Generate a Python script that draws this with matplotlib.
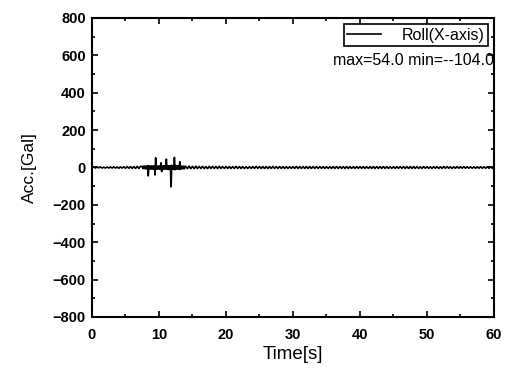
import numpy as np
import matplotlib.pyplot as plt

# acceleration record [Gal]
t_a = np.arange(0.0, 7.5, 0.25)
acc_a = [0, 3, -3, 3, -2, 3, -3, 2, -3, 3,
         -3, 3, -3, 4, -3, 3, -4, 3, -3, 4,
         -4, 5, -4, 5, -5, 5, -5, 6, -5, 6]

t_b = np.arange(7.5, 14.0, 0.1)
acc_b = [6, -6, 7, -6, 8, -7, 7, -8, 9, -45,
         10, -8, 7, -8, 9, -9, 8, -7, 9, -40,
         52, -10, 9, -8, 7, -8, 9, -10, 25, -22,
         8, -9, 10, -9, 8, -8, 45, -10, 9, -11,
         10, -9, 10, -104, 12, -10, 9, -10, 54, -12,
         10, -9, 10, -8, 8, -10, 31, -9, 8, -7,
         7, -7, 7, -7, 6]

t_c = np.arange(14.0, 60.25, 0.25)
acc_c = [6, -6, 7, -6, 6, -6, 7, -6, 6, -5, 6, -6, 5, -6, 6, -5, 6, -5, 5, -6,
         6, -5, 5, -5, 6, -5, 5, -5, 5, -5, 6, -5, 5, -5, 5, -6, 5, -5, 5, -5,
         5, -5, 6, -5, 5, -5, 5, -5, 5, -5, 5, -5, 6, -5, 5, -5, 5, -5, 5, -5,
         5, -5, 5, -5, 5, -5, 6, -5, 5, -5, 5, -5, 5, -5, 5, -5, 5, -5, 5, -5,
         5, -5, 5, -5, 5, -5, 5, -5, 5, -5, 5, -5, 5, -5, 5, -5, 5, -5, 5, -5,
         5, -5, 5, -5, 5, -5, 5, -5, 5, -5, 5, -5, 5, -5, 5, -5, 5, -5, 5, -5,
         5, -5, 5, -5, 5, -5, 5, -5, 5, -5, 5, -5, 5, -5, 5, -5, 5, -5, 5, -5,
         4, -5, 5, -4, 5, -5, 4, -5, 5, -4, 5, -5, 4, -5, 5, -4, 5, -4, 4, -5,
         4, -4, 5, -4, 4, -4, 5, -4, 4, -4, 4, -4, 4, -4, 4, -4, 4, -4, 4, -4,
         4, -4, 4, -4, 4]

time_s = np.concatenate([t_a, t_b, t_c])
acc_gal = np.concatenate([acc_a, acc_b, acc_c])

plt.rcParams['font.family'] = ['Liberation Sans', 'DejaVu Sans']

fig = plt.figure(figsize=(5.08, 3.68), dpi=100)
ax = fig.add_axes([0.1811, 0.1386, 0.7913, 0.8125])

ax.plot(time_s, acc_gal, color='black', lw=1.2, label='Roll(X-axis)')

ax.set_xlim(0, 60)
ax.set_ylim(-800, 800)
ax.set_xticks(np.arange(0, 61, 10))
ax.set_xticks(np.arange(0, 61, 5), minor=True)
ax.set_yticks(np.arange(-800, 801, 200))
ax.set_yticks(np.arange(-800, 801, 100), minor=True)
ax.tick_params(which='both', direction='in', top=True, right=True, width=1.2)
ax.tick_params(which='major', length=4, labelsize=10.5)
ax.tick_params(which='minor', length=2.5)
ax.tick_params(axis='x', which='major', pad=8)
ax.tick_params(axis='y', which='major', pad=4.5)
for lab in ax.get_xticklabels() + ax.get_yticklabels():
    lab.set_fontweight('bold')
for s in ax.spines.values():
    s.set_linewidth(1.5)

ax.set_xlabel('Time[s]', fontsize=13.5, labelpad=3)
ax.set_ylabel('Acc.[Gal]', fontsize=12.5, labelpad=11)

leg = ax.legend(loc='upper right', fontsize=11.5, fancybox=False, framealpha=1,
                edgecolor='black', borderpad=0.2, handlelength=2.1,
                handletextpad=1.3, borderaxespad=0.4)
leg.get_frame().set_linewidth(1.2)

ax.text(1.0, 0.857, 'max=54.0 min=--104.0', transform=ax.transAxes,
        ha='right', va='center', fontsize=11.5)

plt.savefig('out.png', dpi=100)
plt.close('all')
